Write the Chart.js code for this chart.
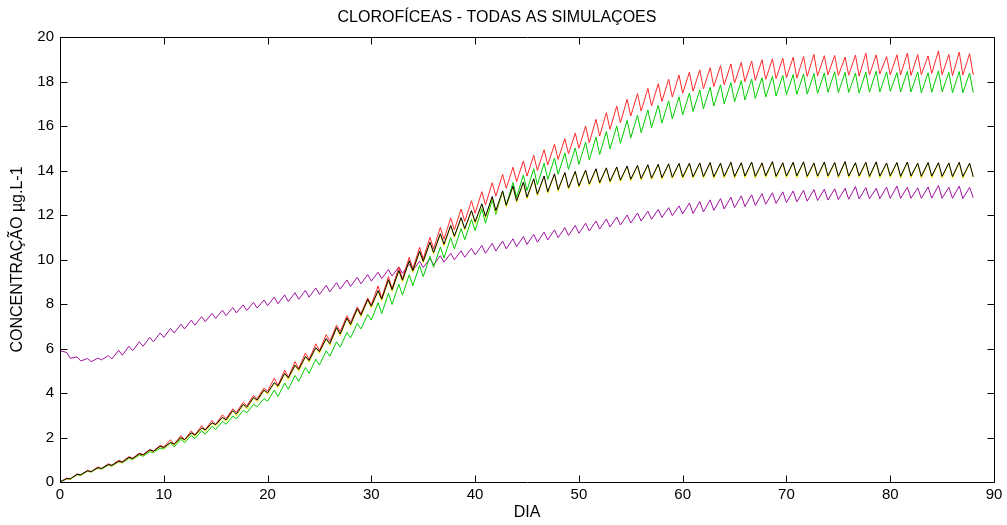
<!DOCTYPE html>
<html>
<head>
<meta charset="utf-8">
<script src="https://cdn.jsdelivr.net/npm/chart.js@4.4.1/dist/chart.umd.min.js"></script>
<style>
html,body{margin:0;padding:0;background:#fff;}
canvas{display:block;}
</style>
</head>
<body>
<canvas id="c" width="1007" height="525"></canvas>
<script>
// ---- values (daily trough at day d, daily peak between d and d+1) ----
const xTicks = [0,10,20,30,40,50,60,70,80,90];
const yTicks = [0,2,4,6,8,10,12,14,16,18,20];
const titleText = "CLOROFÍCEAS - TODAS AS SIMULAÇOES";
const xTitle = "DIA";
const yTitle = "CONCENTRAÇÃO µg.L-1";

const blackLow = [
0.00,0.15,0.33,0.47,0.61,0.75,0.89,1.05,1.21,1.38,
1.55,1.70,1.90,2.11,2.34,2.58,2.79,3.06,3.36,3.68,
4.01,4.31,4.68,5.06,5.46,5.86,6.22,6.65,7.08,7.50,
7.90,8.22,8.64,9.07,9.50,9.92,10.32,10.69,11.05,11.39,
11.70,11.94,12.20,12.44,12.64,12.80,12.94,13.05,13.14,13.22,
13.31,13.40,13.46,13.52,13.57,13.61,13.64,13.66,13.68,13.70,
13.71,13.72,13.73,13.72,13.74,13.73,13.75,13.74,13.76,13.74,
13.75,13.76,13.74,13.75,13.76,13.74,13.75,13.76,13.74,13.75,
13.76,13.74,13.75,13.74,13.75,13.74,13.73,13.73,13.72];
const blackHigh = [
0.15,0.34,0.50,0.64,0.78,0.93,1.11,1.27,1.44,1.61,
1.78,2.00,2.21,2.43,2.66,2.91,3.21,3.49,3.80,4.13,
4.47,4.88,5.25,5.64,6.04,6.45,6.94,7.37,7.79,8.20,
8.60,9.09,9.51,9.94,10.37,10.78,11.16,11.53,11.88,12.20,
12.50,12.83,13.08,13.30,13.48,13.63,13.75,13.85,13.91,13.96,
14.02,14.08,14.12,14.16,14.20,14.23,14.26,14.28,14.30,14.32,
14.33,14.34,14.36,14.33,14.37,14.35,14.38,14.34,14.40,14.35,
14.37,14.39,14.34,14.38,14.36,14.40,14.35,14.37,14.39,14.34,
14.36,14.38,14.33,14.36,14.35,14.34,14.37,14.33];

const yellowLow = [
0.00,0.14,0.31,0.45,0.59,0.72,0.86,1.02,1.18,1.34,
1.51,1.66,1.85,2.05,2.28,2.51,2.72,2.98,3.28,3.60,
3.93,4.23,4.60,4.98,5.38,5.78,6.14,6.57,7.00,7.42,
7.82,8.14,8.56,8.99,9.42,9.84,10.24,10.61,10.97,11.31,
11.62,11.86,12.12,12.36,12.56,12.72,12.86,12.97,13.06,13.14,
13.23,13.32,13.38,13.44,13.49,13.53,13.56,13.58,13.60,13.62,
13.63,13.64,13.65,13.64,13.66,13.65,13.67,13.66,13.68,13.66,
13.67,13.68,13.66,13.67,13.68,13.66,13.67,13.68,13.66,13.67,
13.68,13.66,13.67,13.66,13.67,13.66,13.65,13.65,13.70];
const yellowHigh = [
0.14,0.33,0.49,0.63,0.77,0.91,1.09,1.25,1.42,1.59,
1.76,1.98,2.19,2.41,2.64,2.89,3.19,3.47,3.78,4.11,
4.45,4.86,5.23,5.62,6.02,6.43,6.92,7.35,7.77,8.18,
8.58,9.07,9.49,9.92,10.35,10.76,11.14,11.51,11.86,12.18,
12.48,12.81,13.06,13.28,13.46,13.61,13.73,13.83,13.89,13.94,
14.00,14.06,14.10,14.14,14.18,14.21,14.24,14.26,14.28,14.30,
14.31,14.32,14.34,14.31,14.35,14.33,14.36,14.32,14.38,14.33,
14.35,14.37,14.32,14.36,14.34,14.38,14.33,14.35,14.37,14.32,
14.34,14.36,14.31,14.34,14.33,14.32,14.35,14.31];

const greenLow = [
0.00,0.12,0.29,0.44,0.57,0.71,0.86,1.01,1.16,1.32,
1.48,1.58,1.76,1.95,2.15,2.36,2.59,2.84,3.11,3.38,
3.63,3.84,4.17,4.52,4.88,5.26,5.65,6.06,6.48,6.88,
7.28,7.57,7.98,8.40,8.82,9.23,9.65,10.07,10.48,10.89,
11.30,11.63,12.03,12.43,12.80,13.10,13.36,13.60,13.83,14.05,
14.28,14.48,14.72,14.97,15.22,15.47,15.70,15.93,16.13,16.32,
16.50,16.65,16.78,16.90,17.00,17.09,17.17,17.24,17.30,17.35,
17.41,17.42,17.43,17.47,17.52,17.50,17.51,17.48,17.52,17.53,
17.56,17.53,17.53,17.49,17.52,17.54,17.50,17.49,17.50];
const greenHigh = [
0.15,0.33,0.49,0.63,0.76,0.91,1.06,1.21,1.36,1.52,
1.75,1.92,2.10,2.30,2.50,2.72,2.96,3.22,3.49,3.75,
4.13,4.45,4.79,5.15,5.52,5.90,6.30,6.72,7.13,7.53,
8.06,8.48,8.89,9.31,9.73,10.14,10.56,10.98,11.39,11.80,
12.28,12.68,13.08,13.46,13.80,14.08,14.33,14.56,14.79,15.01,
15.27,15.50,15.75,16.00,16.25,16.49,16.72,16.93,17.13,17.31,
17.48,17.62,17.74,17.85,17.95,18.03,18.11,18.17,18.23,18.27,
18.31,18.34,18.36,18.38,18.44,18.41,18.38,18.42,18.47,18.43,
18.40,18.46,18.43,18.39,18.48,18.41,18.45,18.38];

const redLow = [
0.00,0.13,0.31,0.46,0.60,0.75,0.91,1.07,1.23,1.40,
1.58,1.69,1.89,2.11,2.34,2.59,2.85,3.13,3.43,3.75,
4.09,4.34,4.71,5.10,5.50,5.91,6.33,6.76,7.17,7.57,
7.97,8.27,8.69,9.13,9.58,10.03,10.48,10.91,11.33,11.71,
12.08,12.45,12.85,13.20,13.50,13.75,14.00,14.25,14.50,14.75,
15.00,15.25,15.55,15.85,16.15,16.45,16.67,16.90,17.10,17.30,
17.47,17.57,17.67,17.77,17.85,17.93,17.99,18.05,18.10,18.13,
18.17,18.15,18.23,18.25,18.30,18.27,18.28,18.24,18.29,18.34,
18.30,18.30,18.27,18.31,18.36,18.31,18.26,18.29,18.30];
const redHigh = [
0.18,0.37,0.53,0.68,0.82,0.98,1.14,1.30,1.46,1.64,
1.90,2.09,2.30,2.53,2.77,3.02,3.29,3.58,3.89,4.22,
4.67,5.03,5.41,5.80,6.21,6.62,7.05,7.47,7.87,8.27,
8.81,9.23,9.66,10.10,10.55,11.00,11.44,11.87,12.27,12.64,
13.05,13.45,13.83,14.15,14.43,14.68,14.93,15.18,15.43,15.68,
16.00,16.30,16.60,16.90,17.20,17.46,17.69,17.90,18.10,18.29,
18.42,18.52,18.62,18.71,18.79,18.86,18.92,18.98,19.02,19.05,
19.09,19.12,19.22,19.16,19.17,19.10,19.19,19.27,19.20,19.12,
19.20,19.28,19.21,19.15,19.38,19.21,19.32,19.25];

const purpleLow = [
5.90,5.56,5.44,5.41,5.49,5.53,5.70,5.90,6.10,6.30,
6.50,6.70,6.88,7.05,7.21,7.35,7.48,7.60,7.71,7.82,
7.93,8.01,8.11,8.21,8.31,8.43,8.55,8.67,8.79,8.91,
9.03,9.14,9.26,9.38,9.51,9.64,9.76,9.88,9.99,10.10,
10.21,10.28,10.38,10.48,10.58,10.68,10.78,10.88,10.98,11.08,
11.18,11.28,11.37,11.46,11.55,11.64,11.73,11.81,11.89,11.97,
12.05,12.07,12.14,12.21,12.27,12.33,12.38,12.43,12.48,12.52,
12.56,12.59,12.62,12.65,12.67,12.69,12.71,12.72,12.73,12.74,
12.75,12.75,12.75,12.75,12.76,12.75,12.75,12.74,12.78];
const purpleHigh = [
5.82,5.62,5.55,5.57,5.68,5.92,6.10,6.30,6.50,6.70,
6.90,7.09,7.27,7.43,7.58,7.72,7.84,7.96,8.07,8.18,
8.31,8.41,8.51,8.61,8.72,8.84,8.96,9.08,9.20,9.32,
9.43,9.55,9.67,9.79,9.92,10.05,10.17,10.28,10.39,10.50,
10.63,10.73,10.83,10.93,11.03,11.13,11.23,11.33,11.43,11.53,
11.63,11.73,11.82,11.91,12.00,12.09,12.17,12.25,12.33,12.41,
12.54,12.61,12.68,12.74,12.80,12.86,12.91,12.96,13.00,13.04,
13.08,13.11,13.14,13.16,13.18,13.20,13.28,13.23,13.20,13.25,
13.30,13.25,13.22,13.26,13.33,13.25,13.30,13.24];

// day offset at which the daily peak occurs
const PEAK_PHASE = 0.65;

function series(lows, highs) {
  const pts = [];
  for (let d = 0; d < lows.length; d++) {
    pts.push({x: d, y: lows[d]});
    if (d < highs.length) pts.push({x: d + PEAK_PHASE, y: highs[d]});
  }
  return pts;
}

function ds(label, lows, highs, color) {
  return {label, data: series(lows, highs), borderColor: color, backgroundColor: color,
          borderWidth: 1, pointRadius: 0, tension: 0, fill: false};
}

const FONT = "'Liberation Sans', Arial, Helvetica, sans-serif";

const framePlugin = {
  id: 'frame',
  afterDatasetsDraw(chart) {
    const {ctx, chartArea: a, scales: {x, y}} = chart;
    const L = Math.round(a.left) + 0.5, R = Math.round(a.right) + 0.5;
    const T = Math.round(a.top) + 0.5, B = Math.round(a.bottom) + 0.5;
    const tl = 7;
    ctx.save();
    ctx.strokeStyle = '#000';
    ctx.lineWidth = 1;
    ctx.beginPath();
    ctx.rect(L, T, R - L, B - T);
    xTicks.forEach(v => {
      const px = Math.round(x.getPixelForValue(v)) + 0.5;
      ctx.moveTo(px, B); ctx.lineTo(px, B - tl);
      ctx.moveTo(px, T); ctx.lineTo(px, T + tl);
    });
    yTicks.forEach(v => {
      const py = Math.round(y.getPixelForValue(v)) + 0.5;
      ctx.moveTo(L, py); ctx.lineTo(L + tl, py);
      ctx.moveTo(R, py); ctx.lineTo(R - tl, py);
    });
    ctx.stroke();
    ctx.restore();
  }
};

new Chart(document.getElementById('c'), {
  type: 'line',
  data: {
    datasets: [
      ds('black', blackLow, blackHigh, '#000000'),
      ds('yellow', yellowLow, yellowHigh, '#f2e600'),
      ds('red', redLow, redHigh, '#ff2a2a'),
      ds('green', greenLow, greenHigh, '#00cc00'),
      ds('purple', purpleLow, purpleHigh, '#a010a0')
    ]
  },
  options: {
    responsive: false,
    animation: false,
    devicePixelRatio: 1,
    layout: {padding: {top: 0, right: 13, bottom: 0, left: 0}},
    plugins: {
      legend: {display: false},
      tooltip: {enabled: false},
      title: {display: true, text: titleText, color: '#000',
              font: {family: FONT, size: 16, weight: 'normal'},
              padding: {top: 8.4, bottom: 9.4}}
    },
    scales: {
      x: {
        type: 'linear', min: 0, max: 90,
        afterBuildTicks: s => { s.ticks = xTicks.map(v => ({value: v})); },
        afterFit: s => { s.height = 43; },
        grid: {display: false, drawTicks: false},
        border: {display: false},
        ticks: {color: '#000', padding: 4, maxRotation: 0, font: {family: FONT, size: 15}},
        title: {display: true, text: xTitle, color: '#000',
                font: {family: FONT, size: 16}, padding: {top: 0, bottom: 2.4}}
      },
      y: {
        type: 'linear', min: 0, max: 20,
        afterBuildTicks: s => { s.ticks = yTicks.map(v => ({value: v})); },
        afterFit: s => { s.width = 60; },
        grid: {display: false, drawTicks: false},
        border: {display: false},
        ticks: {color: '#000', padding: 6, font: {family: FONT, size: 15}},
        title: {display: true, text: yTitle, color: '#000',
                font: {family: FONT, size: 16}, padding: {top: 8.4, bottom: 0}}
      }
    }
  },
  plugins: [framePlugin]
});
</script>
</body>
</html>
